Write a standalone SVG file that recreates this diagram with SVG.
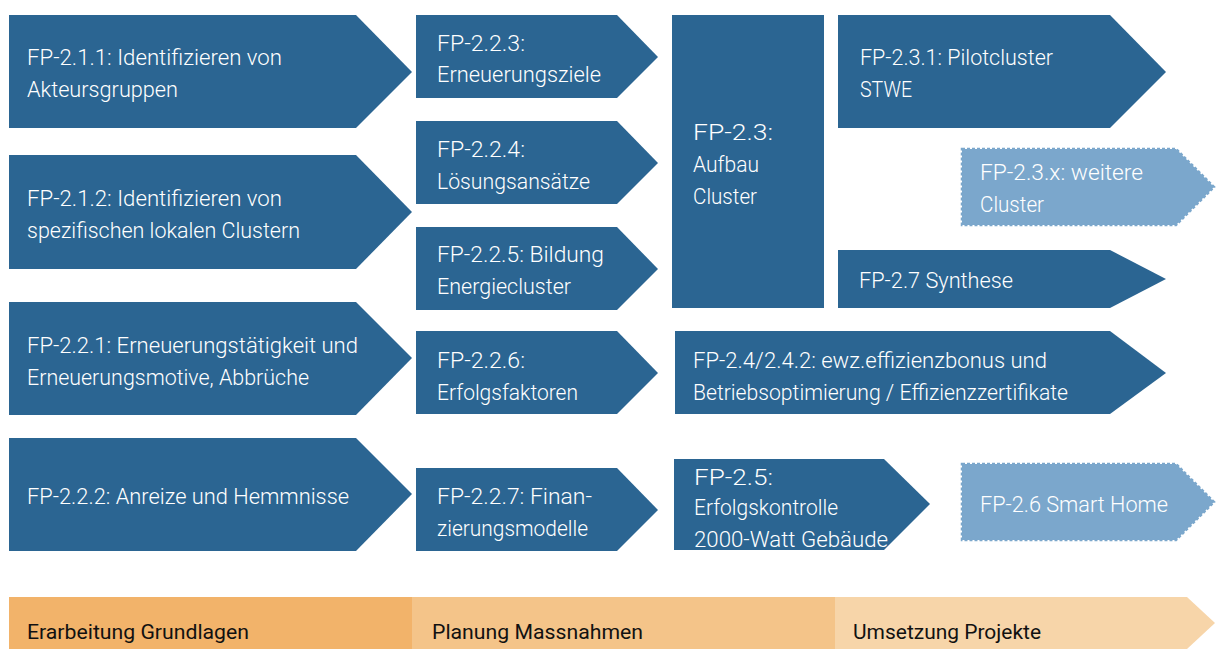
<svg xmlns="http://www.w3.org/2000/svg" width="1219" height="649" viewBox="0 0 1219 649">
<style>
.d{fill:#2B6592}
.l{fill:#7BA7CC}
.ds{fill:none;stroke:#7BA7CC;stroke-width:2.5;stroke-dasharray:3 2}
text{font-family:Roboto,"Liberation Sans",Arial,sans-serif;font-weight:300;font-size:21.5px}
.w{fill:#ffffff}
.b{fill:#111111;font-size:20px;font-weight:400}
</style>
<rect width="1219" height="649" fill="#ffffff"/>
<g id="n211"><polygon class="d" points="9,15 356,15 412,72 356,128 9,128"/>
<text class="w" x="27" y="65" textLength="255" lengthAdjust="spacingAndGlyphs">FP-2.1.1: Identifizieren von</text>
<text class="w" x="27" y="97" textLength="151" lengthAdjust="spacingAndGlyphs">Akteursgruppen</text></g>
<g id="n212"><polygon class="d" points="9,155 356,155 412,212 356,269 9,269"/>
<text class="w" x="27" y="206" textLength="255" lengthAdjust="spacingAndGlyphs">FP-2.1.2: Identifizieren von</text>
<text class="w" x="27" y="238" textLength="273" lengthAdjust="spacingAndGlyphs">spezifischen lokalen Clustern</text></g>
<g id="n221"><polygon class="d" points="9,302 356,302 412,358 356,415 9,415"/>
<text class="w" x="27" y="353" textLength="331" lengthAdjust="spacingAndGlyphs">FP-2.2.1: Erneuerungstätigkeit und</text>
<text class="w" x="27" y="385" textLength="282" lengthAdjust="spacingAndGlyphs">Erneuerungsmotive, Abbrüche</text></g>
<g id="n222"><polygon class="d" points="9,438 356,438 412,494 356,551 9,551"/>
<text class="w" x="27" y="504" textLength="322" lengthAdjust="spacingAndGlyphs">FP-2.2.2: Anreize und Hemmnisse</text></g>
<g id="n223"><polygon class="d" points="416,15 617,15 658,57 617,98 416,98"/>
<text class="w" x="437" y="51" textLength="88" lengthAdjust="spacingAndGlyphs">FP-2.2.3:</text>
<text class="w" x="437" y="82" textLength="164" lengthAdjust="spacingAndGlyphs">Erneuerungsziele</text></g>
<g id="n224"><polygon class="d" points="416,121 617,121 658,163 617,204 416,204"/>
<text class="w" x="437" y="157" textLength="88" lengthAdjust="spacingAndGlyphs">FP-2.2.4:</text>
<text class="w" x="437" y="189" textLength="153" lengthAdjust="spacingAndGlyphs">Lösungsansätze</text></g>
<g id="n225"><polygon class="d" points="416,227 617,227 658,269 617,310 416,310"/>
<text class="w" x="437" y="262" textLength="167" lengthAdjust="spacingAndGlyphs">FP-2.2.5: Bildung</text>
<text class="w" x="437" y="294" textLength="134" lengthAdjust="spacingAndGlyphs">Energiecluster</text></g>
<g id="n226"><polygon class="d" points="416,331 617,331 658,373 617,414 416,414"/>
<text class="w" x="437" y="368" textLength="88" lengthAdjust="spacingAndGlyphs">FP-2.2.6:</text>
<text class="w" x="437" y="400" textLength="141" lengthAdjust="spacingAndGlyphs">Erfolgsfaktoren</text></g>
<g id="n227"><polygon class="d" points="416,468 617,468 658,510 617,551 416,551"/>
<text class="w" x="437" y="504" textLength="155" lengthAdjust="spacingAndGlyphs">FP-2.2.7: Finan-</text>
<text class="w" x="437" y="536" textLength="151" lengthAdjust="spacingAndGlyphs">zierungsmodelle</text></g>
<g id="n23"><rect class="d" x="672" y="15" width="152" height="293"/>
<text class="w" x="693" y="140" textLength="80" lengthAdjust="spacingAndGlyphs">FP-2.3:</text>
<text class="w" x="693" y="172" textLength="66" lengthAdjust="spacingAndGlyphs">Aufbau</text>
<text class="w" x="693" y="204" textLength="64" lengthAdjust="spacingAndGlyphs">Cluster</text></g>
<g id="n231"><polygon class="d" points="838,15 1110,15 1166,72 1110,128 838,128"/>
<text class="w" x="860" y="65" textLength="193" lengthAdjust="spacingAndGlyphs">FP-2.3.1: Pilotcluster</text>
<text class="w" x="860" y="97" textLength="52" lengthAdjust="spacingAndGlyphs">STWE</text></g>
<g id="n23x"><polygon class="l" points="962,149 1176,149 1214,187 1176,225 962,225"/>
<polygon class="ds" points="962,149 1176,149 1214,187 1176,225 962,225"/>
<text class="w" x="980" y="180" textLength="163" lengthAdjust="spacingAndGlyphs">FP-2.3.x: weitere</text>
<text class="w" x="980" y="212" textLength="64" lengthAdjust="spacingAndGlyphs">Cluster</text></g>
<g id="n27"><polygon class="d" points="838,250 1110,250 1166,279 1110,308 838,308"/>
<text class="w" x="859" y="288" textLength="154" lengthAdjust="spacingAndGlyphs">FP-2.7 Synthese</text></g>
<g id="n24"><polygon class="d" points="675,331 1110,331 1166,373 1110,414 675,414"/>
<text class="w" x="693" y="368" textLength="354" lengthAdjust="spacingAndGlyphs">FP-2.4/2.4.2: ewz.effizienzbonus und</text>
<text class="w" x="693" y="400" textLength="375" lengthAdjust="spacingAndGlyphs">Betriebsoptimierung / Effizienzzertifikate</text></g>
<g id="n25"><polygon class="d" points="674,459 884,459 930,504 884,550 674,550"/>
<text class="w" x="694" y="485" textLength="79" lengthAdjust="spacingAndGlyphs">FP-2.5:</text>
<text class="w" x="694" y="515" textLength="144" lengthAdjust="spacingAndGlyphs">Erfolgskontrolle</text>
<text class="w" x="694" y="547" textLength="194" lengthAdjust="spacingAndGlyphs">2000-Watt  Gebäude</text></g>
<g id="n26"><polygon class="l" points="962,464 1176,464 1214,502 1176,540 962,540"/>
<polygon class="ds" points="962,464 1176,464 1214,502 1176,540 962,540"/>
<text class="w" x="980" y="512" textLength="188" lengthAdjust="spacingAndGlyphs">FP-2.6 Smart Home</text></g>
<g id="phases">
<rect x="9" y="597" width="403" height="52" fill="#F2B36A"/>
<rect x="412" y="597" width="423" height="52" fill="#F4C489"/>
<polygon points="835,597 1187,597 1215,623 1187,649 835,649" fill="#F7D5A9"/>
<text class="b" x="27" y="639" textLength="222" lengthAdjust="spacingAndGlyphs">Erarbeitung Grundlagen</text>
<text class="b" x="432" y="639" textLength="211" lengthAdjust="spacingAndGlyphs">Planung Massnahmen</text>
<text class="b" x="853" y="639" textLength="188" lengthAdjust="spacingAndGlyphs">Umsetzung Projekte</text>
</g>
<g id="connectors"></g>
</svg>
